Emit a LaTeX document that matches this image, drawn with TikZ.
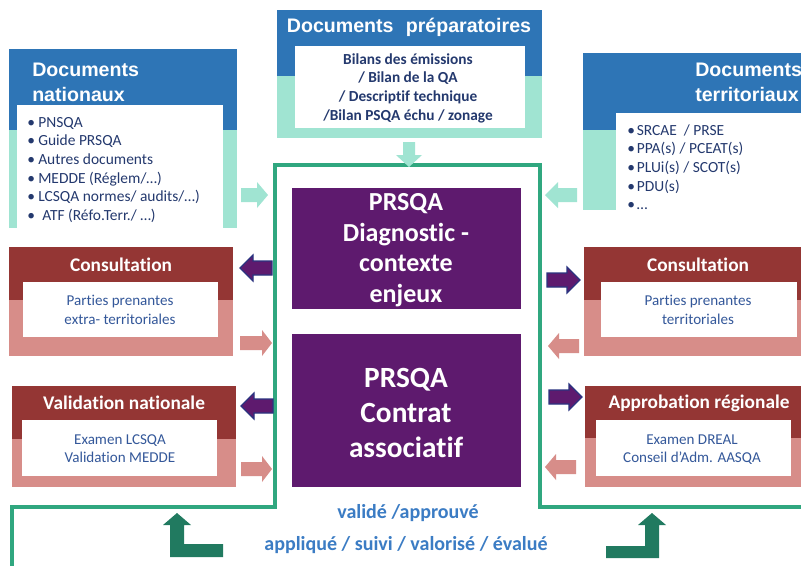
\documentclass[tikz,border=0pt]{standalone}
\usepackage{fontspec}
\setmainfont{Carlito}[Ligatures=NoCommon]
\newfontfamily\arialf{Liberation Sans}
\usetikzlibrary{fit}
\definecolor{hblue}{HTML}{2E75B6}
\definecolor{lteal}{HTML}{A0E4D2}
\definecolor{dred}{HTML}{943634}
\definecolor{lpink}{HTML}{D78D89}
\definecolor{dpurp}{HTML}{5E1A6E}
\definecolor{navyb}{HTML}{2A3380}
\definecolor{gline}{HTML}{30A77F}
\definecolor{dgreen}{HTML}{217A60}
\definecolor{navytxt}{HTML}{24396E}
\definecolor{midtxt}{HTML}{34589A}
\definecolor{bottxt}{HTML}{3B7CC4}
\newcommand{\bulA}{\makebox[8.25pt][l]{\textbullet}}
\newcommand{\bulB}{\makebox[7.2pt][l]{\textbullet}}
% block arrow: style, tail x, head-base x, tip x, centre y
\newcommand{\harrowshape}[5]{\path[#1] (#2,#5-7) -- (#3,#5-7) -- (#3,#5-13) -- (#4,#5) -- (#3,#5+13) -- (#3,#5+7) -- (#2,#5+7) -- cycle;}
\begin{document}
\begin{tikzpicture}[x=0.75pt,y=-0.75pt,
  box/.style={inner sep=0pt, outer sep=0pt},
  ttlA/.style={inner sep=0pt, font=\arialf\bfseries\fontsize{14.7}{18.75}\selectfont, text=white, align=left},
  ttlB/.style={inner sep=0pt, font=\bfseries\fontsize{14.5}{17}\selectfont, text=white},
  lst/.style={inner sep=0pt, font=\fontsize{11.6}{14}\selectfont, text=navytxt, align=left},
  prep/.style={inner sep=0pt, font=\bfseries\fontsize{11.5}{14}\selectfont, text=navytxt, align=center},
  bodyA/.style={inner sep=0pt, font=\fontsize{11.3}{13.7}\selectfont, text=midtxt, align=center},
  purptxt/.style={inner sep=0pt, font=\bfseries, text=white, align=center},
  bottom/.style={inner sep=0pt, font=\bfseries\fontsize{15}{18}\selectfont, text=bottxt},
  tealarr/.style={fill=lteal},
  pinkarr/.style={fill=lpink},
  purparr/.style={fill=dpurp, draw=navyb, line width=0.9pt, line join=miter},
  gl/.style={draw=gline, line width=2.4pt},
  elbow/.style={fill=dgreen}
]
\clip (0,0) rectangle (801,565);
\fill[white] (0,0) rectangle (801,565);

% ---------- Documents nationaux
\node[box, fit={(9,49) (237,130)}, fill=hblue] (dnh) {};
\node[box, fit={(9,130) (237,228)}, fill=lteal] (dnl) {};
\node[box, fit={(17,105) (223,229)}, fill=white] (dnw) {};
\node[ttlA, anchor=north west] (dnt) at (32,63) {Documents\\nationaux};
\node[lst, anchor=north west] (dnlist) at (27,117) {\bulA PNSQA\\\bulA Guide PRSQA\\\bulA Autres documents\\\bulA MEDDE (Réglem/…)\\\bulA LCSQA normes/ audits/…)\\\bulA\hspace{3pt}ATF (Réfo.Terr./ …)};

% ---------- Documents préparatoires
\node[box, fit={(277,10) (542,76)}, fill=hblue] (dph) {};
\node[box, fit={(277,76) (542,138)}, fill=lteal] (dpl) {};
\node[box, fit={(295,46) (525,128)}, fill=white] (dpw) {};
\node[ttlA, anchor=center] (dpt) at (409,27) {Documents\hspace{0.62em}préparatoires};
\node[prep] (dptxt) at (408,88) {Bilans des émissions\\/ Bilan de la QA\\/ Descriptif technique\\/Bilan PSQA échu / zonage};

% ---------- Documents territoriaux
\node[box, fit={(583,53) (801,130)}, fill=hblue] (dth) {};
\node[box, fit={(583,130) (801,210)}, fill=lteal] (dtl) {};
\node[box, fit={(616,113) (801,217)}, fill=white] (dtw) {};
\node[ttlA, anchor=north west] (dtt) at (695,63) {Documents\\territoriaux};
\node[lst, anchor=north west] (dtlist) at (627,124) {\bulB SRCAE\ \ / PRSE\\\bulB PPA(s) / PCEAT(s)\\\bulB PLUi(s) / SCOT(s)\\\bulB PDU(s)\\\bulB …};

% ---------- Consultation (left)
\node[box, fit={(9,247) (233,300)}, fill=dred] (clh) {};
\node[box, fit={(9,300) (233,356)}, fill=lpink] (cll) {};
\node[box, fit={(23,282) (218,337)}, fill=white] (clw) {};
\node[ttlB] (clt) at (121,265) {Consultation};
\node[bodyA] (cltxt) at (120,310) {Parties prenantes\\extra- territoriales};

% ---------- Validation nationale
\node[box, fit={(12,386) (236,439)}, fill=dred] (vnh) {};
\node[box, fit={(12,439) (236,487)}, fill=lpink] (vnl) {};
\node[box, fit={(22,420) (217,476)}, fill=white] (vnw) {};
\node[ttlB] (vnt) at (124,403) {Validation nationale};
\node[bodyA] (vntxt) at (120,449) {Examen LCSQA\\Validation MEDDE};

% ---------- Consultation (right)
\node[box, fit={(584,247) (801,300)}, fill=dred] (crh) {};
\node[box, fit={(584,300) (801,356)}, fill=lpink] (crl) {};
\node[box, fit={(601,282) (797,337)}, fill=white] (crw) {};
\node[ttlB] (crt) at (698,265) {Consultation};
\node[bodyA] (crtxt) at (698,310) {Parties prenantes\\territoriales};

% ---------- Approbation régionale
\node[box, fit={(585,386) (801,438)}, fill=dred] (arh) {};
\node[box, fit={(585,438) (801,487)}, fill=lpink] (arl) {};
\node[box, fit={(596,420) (791,476)}, fill=white] (arw) {};
\node[ttlB] (art) at (699,403) {Approbation régionale};
\node[bodyA] (artxt) at (692,450) {Examen DREAL\\Conseil d’Adm. AASQA};

% ---------- central PRSQA boxes
\node[box, fit={(292,188) (521,309)}, fill=dpurp] (p1) {};
\node[purptxt, font=\bfseries\fontsize{19.5}{23}\selectfont] (p1t) at (406,250) {PRSQA\\Diagnostic -\\contexte\\enjeux};
\node[box, fit={(292,334) (521,487)}, fill=dpurp] (p2) {};
\node[purptxt, font=\bfseries\fontsize{22}{26.5}\selectfont] (p2t) at (406,413) {PRSQA\\Contrat\\associatif};

% ---------- green frame
\path[gl] (12,566) -- (12,507) -- (275,507) -- (275,165) -- (540,165) -- (540,507) -- (802,507);

% ---------- block arrows
\harrowshape{tealarr}{241}{257}{268}{195}
\harrowshape{tealarr}{577}{558}{545}{195}
\path[tealarr] (403,142) -- (415,142) -- (415,155) -- (422,155) -- (409,167) -- (396,155) -- (403,155) -- cycle;

\harrowshape{purparr}{272}{253}{240}{268}
\harrowshape{pinkarr}{240}{262}{272}{343}
\harrowshape{purparr}{273}{254}{241}{406}
\harrowshape{pinkarr}{241}{262}{272}{469}

\harrowshape{purparr}{547}{567}{580}{280}
\harrowshape{pinkarr}{579}{559}{548}{346}
\harrowshape{purparr}{549}{569}{582}{397}
\harrowshape{pinkarr}{576}{556}{545}{467}

% ---------- elbow arrows
\path[elbow] (177,513) -- (191,525) -- (184,525) -- (184,544) -- (223,544) -- (223,557) -- (170,557) -- (170,525) -- (163,525) -- cycle;
\path[elbow] (652,513) -- (666,525) -- (659,525) -- (659,558) -- (606,558) -- (606,546) -- (645,546) -- (645,525) -- (638,525) -- cycle;

% ---------- bottom texts
\node[bottom] (v1) at (408,513) {validé /approuvé};
\node[bottom] (v2) at (406,545) {appliqué / suivi / valorisé / évalué};
\end{tikzpicture}
\end{document}
